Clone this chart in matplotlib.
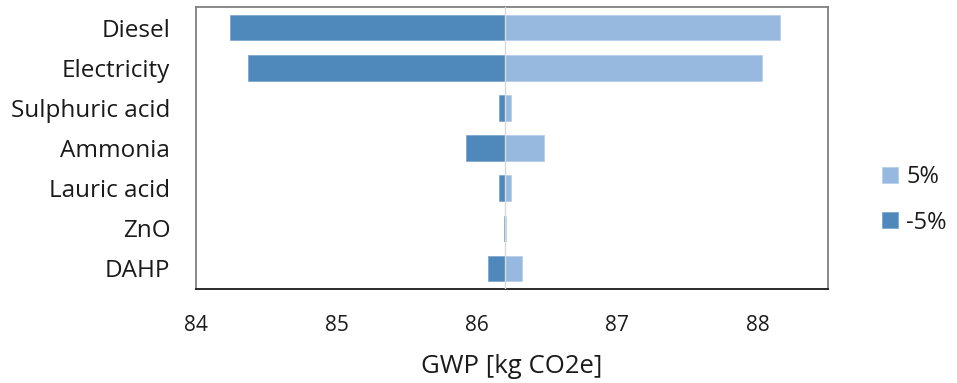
import matplotlib.pyplot as plt
import numpy as np

plt.rcParams['font.family'] = ['Open Sans', 'DejaVu Sans']

# sensitivity of GWP to +/-5% change in each input
categories = ["Diesel", "Electricity", "Sulphuric acid", "Ammonia", "Lauric acid", "ZnO", "DAHP"]
base = 86.2
low_minus5 = [84.24, 84.37, 86.16, 85.92, 86.16, 86.19, 86.08]   # -5%
high_plus5 = [88.16, 88.03, 86.24, 86.48, 86.24, 86.21, 86.32]   # 5%
xticks = [84, 85, 86, 87, 88]

dark = "#4F89BC"
light = "#98B9DF"

fig = plt.figure(figsize=(9.57, 3.83), dpi=100)
ax = fig.add_axes([0.2048, 0.2454, 0.6604, 0.7363])

y = np.arange(len(categories))
hi = np.array(high_plus5) - base
lo = np.array(low_minus5) - base

ax.barh(y, hi, left=base, height=0.63, color=light, edgecolor="#b9d0ea",
        linewidth=0.6, label="5%")
ax.barh(y, lo, left=base, height=0.63, color=dark, edgecolor="#7fa8cf",
        linewidth=0.6, label="-5%")
ax.axvline(base, color="#d9d9d9", linewidth=1, zorder=3)

ax.set_xlim(84, 88.5)
ax.set_ylim(len(categories) - 0.48, -0.52)
ax.set_yticks(y)
ax.set_yticklabels(categories)
ax.set_xticks(xticks)
ax.tick_params(axis="both", length=0, colors="#1a1a1a")
ax.tick_params(axis="x", pad=19, labelsize=15)
ax.tick_params(axis="y", pad=18.5, labelsize=17.5)
ax.set_xlabel("GWP [kg CO2e]", fontsize=18.5, color="#1a1a1a", labelpad=13)

for s in ["left", "right", "top"]:
    ax.spines[s].set_color("#808080")
    ax.spines[s].set_linewidth(1.3)
ax.spines["bottom"].set_color("#1a1a1a")
ax.spines["bottom"].set_linewidth(1.3)

leg = fig.legend(loc="center left", bbox_to_anchor=(0.902, 0.478), frameon=False,
                 fontsize=17, handlelength=0.68, handleheight=0.68,
                 handletextpad=0.35, labelspacing=0.9, borderpad=0.3)
for t in leg.get_texts():
    t.set_color("#1a1a1a")

fig.savefig("out.png", dpi=100)
